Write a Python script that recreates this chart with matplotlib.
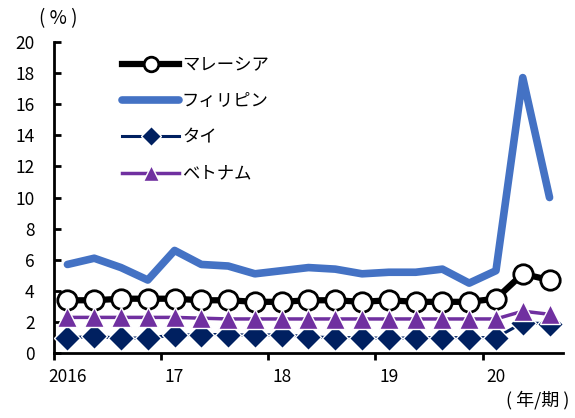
import matplotlib
matplotlib.use("Agg")
import matplotlib.pyplot as plt
import numpy as np

plt.rcParams['font.family'] = ['Noto Sans CJK JP', 'DejaVu Sans']

# quarterly unemployment rate, 2016Q1 - 2020Q3
year_labels = ["2016", "17", "18", "19", "20"]
malaysia = [3.4, 3.4, 3.5, 3.5, 3.5, 3.4, 3.4, 3.3, 3.3, 3.4, 3.4, 3.3,
            3.4, 3.3, 3.3, 3.3, 3.5, 5.1, 4.7]
philippines = [5.7, 6.1, 5.5, 4.7, 6.6, 5.7, 5.6, 5.1, 5.3, 5.5, 5.4, 5.1,
               5.2, 5.2, 5.4, 4.5, 5.3, 17.7, 10.0]
thailand = [0.97, 1.1, 0.95, 1.0, 1.15, 1.2, 1.2, 1.15, 1.2, 1.05, 1.0, 1.0,
            0.95, 1.0, 1.0, 1.0, 1.0, 1.95, 1.9]
vietnam = [2.3, 2.3, 2.3, 2.3, 2.3, 2.25, 2.2, 2.2, 2.2, 2.2, 2.2, 2.2,
           2.2, 2.2, 2.2, 2.2, 2.2, 2.7, 2.5]

x = np.arange(len(malaysia))

fig = plt.figure(figsize=(5.75, 4.18), dpi=100)
ax = fig.add_axes([0.094, 0.155, 0.885, 0.745])

ax.plot(x, malaysia, color='black', lw=4.5, marker='o', ms=14,
        mfc='white', mec='black', mew=2, label='マレーシア', zorder=2)
ax.plot(x, philippines, color='#4472C4', lw=5.5, solid_capstyle='round',
        label='フィリピン', zorder=3)
ax.plot(x, thailand, color='#002060', lw=2.2, marker='D', ms=13,
        mfc='#002060', mec='white', mew=1, label='タイ', zorder=4)
ax.plot(x, vietnam, color='#7030A0', lw=2.5, marker='^', ms=15,
        mfc='#7030A0', mec='white', mew=1, label='ベトナム', zorder=5)

ax.set_xlim(-0.5, len(x) - 0.5)
ax.set_ylim(0, 20)
ax.set_yticks(range(0, 21, 2))
# year labels sit under the first quarter, tick marks on year boundaries
ax.set_xticks(np.arange(0, len(x), 4))
ax.set_xticklabels(year_labels)
ax.set_xticks(np.arange(-0.5, len(x), 4), minor=True)

for s in ['top', 'right']:
    ax.spines[s].set_visible(False)
for s in ['left', 'bottom']:
    ax.spines[s].set_linewidth(2)

ax.tick_params(axis='y', direction='in', length=5, width=2, labelsize=12.5, pad=14)
ax.tick_params(axis='x', which='major', length=0, labelsize=12.5, pad=11)
ax.tick_params(axis='x', which='minor', direction='out', length=5, width=2)

fig.text(0.068, 0.955, '( % )', fontsize=13.5, ha='left', va='center')
fig.text(0.99, 0.043, '( 年/期 )', fontsize=13, ha='right', va='center')

leg = ax.legend(loc='upper left', bbox_to_anchor=(0.12, 0.977), frameon=False,
                fontsize=12.5, handlelength=3.3, handletextpad=0.15,
                labelspacing=1.05, borderaxespad=0, markerscale=0.75)

fig.savefig('out.png', dpi=100)
